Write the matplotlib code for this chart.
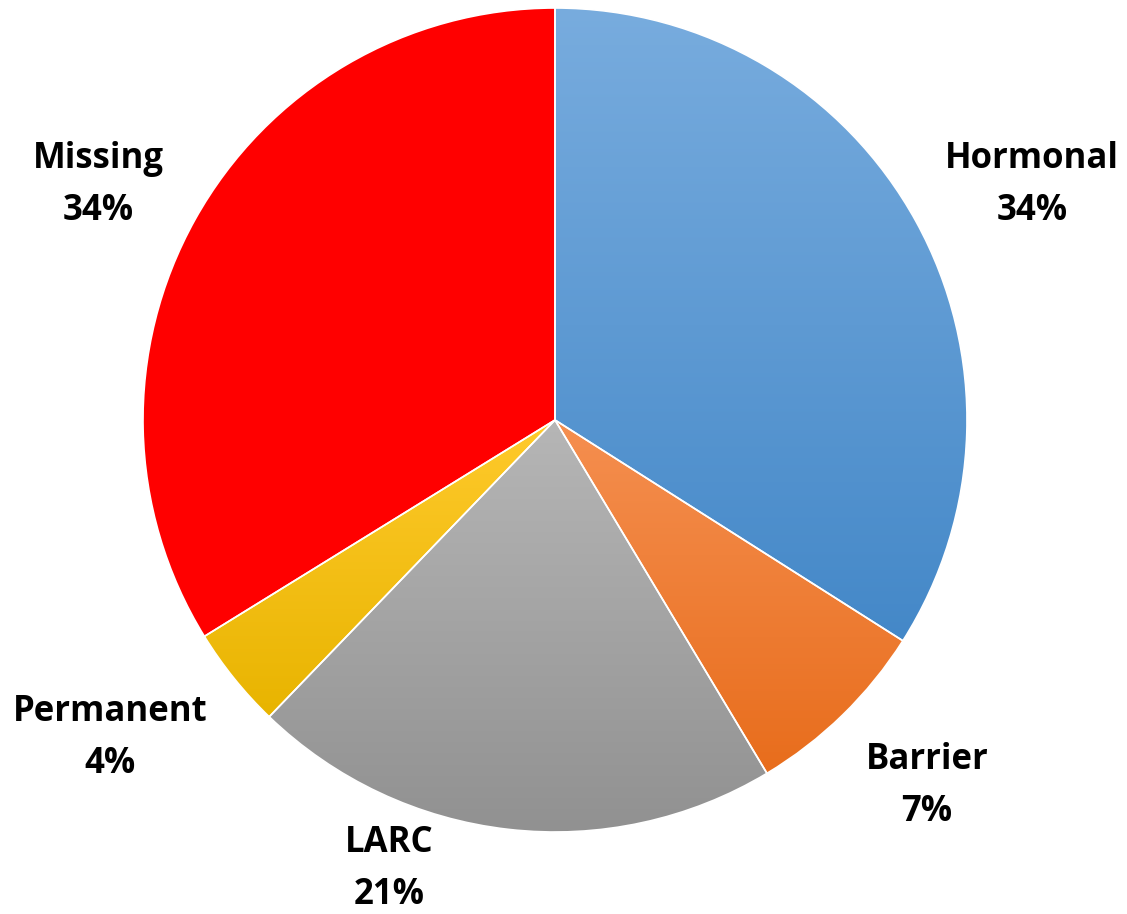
import numpy as np
import matplotlib.pyplot as plt
from matplotlib.colors import to_rgb

# slice data (clockwise from 12 o'clock)
labels = ['Hormonal', 'Barrier', 'LARC', 'Permanent', 'Missing']
values = [34.0, 7.4, 20.8, 4.0, 33.8]
pct_text = ['34%', '7%', '21%', '4%', '34%']
top_colors = ['#78ACDE', '#F58F50', '#B6B6B6', '#FFCA2C', '#FF0000']
bot_colors = ['#4488C8', '#E86D1C', '#919191', '#E8B400', '#FF0000']

W, H = 1127, 914
fig = plt.figure(figsize=(W / 100, H / 100), dpi=100)
ax = fig.add_axes([0, 0, 1, 1])

cx, cy, R = 555, H - 420, 412
wedges, _ = ax.pie(values, startangle=90, counterclock=False,
                   center=(cx, cy), radius=R, frame=True,
                   wedgeprops=dict(edgecolor='white', linewidth=1.2))

# gradient fill clipped to each wedge
for w, c0, c1 in zip(wedges, top_colors, bot_colors):
    ext = w.get_path().get_extents()
    t = np.linspace(0, 1, 256)[:, None]
    a, b = np.array(to_rgb(c1)), np.array(to_rgb(c0))
    grad = (a * (1 - t) + b * t)[:, None, :]
    im = ax.imshow(grad, extent=[ext.x0, ext.x1, ext.y0, ext.y1],
                   origin='lower', aspect='auto', zorder=1)
    im.set_clip_path(w)
    w.set_facecolor('none')
    w.set_zorder(2)

ax.set_xlim(0, W)
ax.set_ylim(0, H)
ax.set_aspect('equal')
ax.axis('off')

label_pos = [(1032, H - 185), (927, H - 786), (389, H - 869),
             (110, H - 738), (98, H - 185)]
for name, pct, (x, y) in zip(labels, pct_text, label_pos):
    ax.text(x, y, name + '\n' + pct, ha='center', va='center',
            fontsize=25, fontweight='bold', family='Open Sans',
            linespacing=1.58, color='black')

fig.savefig('out.png', dpi=100)
